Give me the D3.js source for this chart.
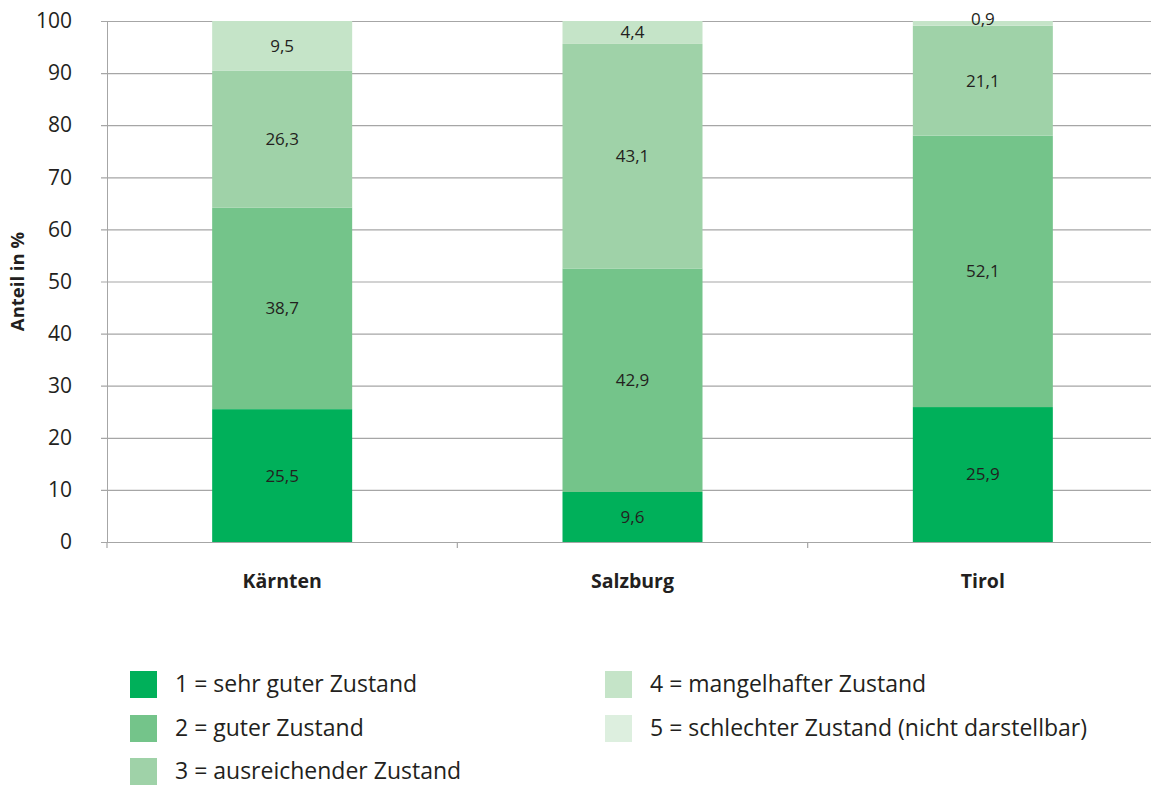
<!DOCTYPE html>
<html><head><meta charset="utf-8">
<script src="https://cdn.jsdelivr.net/npm/d3@7"></script>
<style>body{margin:0;background:#fff}svg{display:block}text{font-family:"Open Sans",sans-serif;fill:#231f20}</style>
</head><body><svg id="c" width="1151" height="787"></svg>
<script>
const categories = ["Kärnten", "Salzburg", "Tirol"];
const seriesNames = ["1 = sehr guter Zustand", "2 = guter Zustand", "3 = ausreichender Zustand", "4 = mangelhafter Zustand", "5 = schlechter Zustand (nicht darstellbar)"];
const s1 = [25.5, 9.6, 25.9];
const s2 = [38.7, 42.9, 52.1];
const s3 = [26.3, 43.1, 21.1];
const s4 = [9.5, 4.4, 0.9];
const s5 = [0, 0, 0];
const yTicks = [0, 10, 20, 30, 40, 50, 60, 70, 80, 90, 100];
const colors = ["#00b05a", "#74c48a", "#9fd2a8", "#c5e4c8", "#ddefdf"];

const svg = d3.select("#c");
const mLeft = 107, mTop = 21, mBottom = 542, mRight = 1158;
const x = d3.scaleBand().domain(categories).range([mLeft, mRight]).paddingInner(0).paddingOuter(0);
const y = d3.scaleLinear().domain([0, 100]).range([mBottom, mTop]);
const fmt = v => String(v).replace(".", ",");

// gridlines + y axis
const yAxis = d3.axisLeft(y).tickValues(yTicks).tickSize(-(mRight - mLeft)).tickSizeOuter(0).tickPadding(35);
const gy = svg.append("g").attr("transform", `translate(${mLeft},0)`).call(yAxis);
gy.select(".domain").attr("stroke", "#a6a6a6");
gy.selectAll(".tick line").attr("stroke", "#a6a6a6").attr("x1", -6).attr("stroke-width", 1.2);
gy.selectAll(".tick text").attr("font-size", 21).attr("fill", "#231f20").attr("font-family", "Open Sans");

// bars
const data = [s1, s2, s3, s4, s5];
const rows = categories.map((c, i) => { const o = {cat: c}; data.forEach((s, k) => o["k" + k] = s[i]); return o; });
const stack = d3.stack().keys(data.map((_, k) => "k" + k))(rows);
const bw = 140;
stack.forEach((layer, k) => {
  const g = svg.append("g");
  layer.forEach(d => {
    if (d[1] - d[0] <= 0) return;
    const cx = x(d.data.cat) + x.bandwidth() / 2;
    g.append("rect").attr("x", cx - bw / 2).attr("width", bw)
      .attr("y", y(d[1])).attr("height", y(d[0]) - y(d[1])).attr("fill", colors[k]);
  });
});
// bottom axis
const xAxis = d3.axisBottom(x).tickSize(0).tickFormat("");
const gx = svg.append("g").attr("transform", `translate(0,${mBottom})`).call(xAxis);
gx.select(".domain").attr("stroke", "#a6a6a6").attr("stroke-width", 1.2);
categories.forEach((c, i) => {
  svg.append("line").attr("x1", x(c)).attr("x2", x(c)).attr("y1", mBottom).attr("y2", mBottom + 6).attr("stroke", "#a6a6a6").attr("stroke-width", 1.2);
  svg.append("text").attr("x", x(c) + x.bandwidth() / 2).attr("y", 588).attr("text-anchor", "middle")
    .attr("font-size", 19.5).attr("font-weight", "bold").text(c);
});
// value labels
stack.forEach((layer, k) => {
  layer.forEach(d => {
    const v = d.data["k" + k];
    if (v <= 0) return;
    const cx = x(d.data.cat) + x.bandwidth() / 2;
    let cy = (y(d[0]) + y(d[1])) / 2;
    if (v < 2) cy = y(d[1]) - 2;
    svg.append("text").attr("x", cx).attr("y", cy).attr("dy", "0.35em").attr("text-anchor", "middle")
      .attr("font-size", 17).text(fmt(v));
  });
});
// y title
svg.append("text").attr("transform", `translate(24,${(mTop + mBottom) / 2}) rotate(-90)`).attr("text-anchor", "middle")
  .attr("font-size", 18.5).attr("font-weight", "bold").text("Anteil in %");
// legend
const legPos = [[130, 671], [130, 715], [130, 758], [605, 671], [605, 715]];
seriesNames.forEach((n, k) => {
  const [lx, ly] = legPos[k];
  svg.append("rect").attr("x", lx).attr("y", ly).attr("width", 27).attr("height", 27).attr("fill", colors[k]);
  svg.append("text").attr("x", lx + 45).attr("y", ly + 13).attr("dy", "0.35em").attr("font-size", 23).text(n);
});
</script></body></html>
